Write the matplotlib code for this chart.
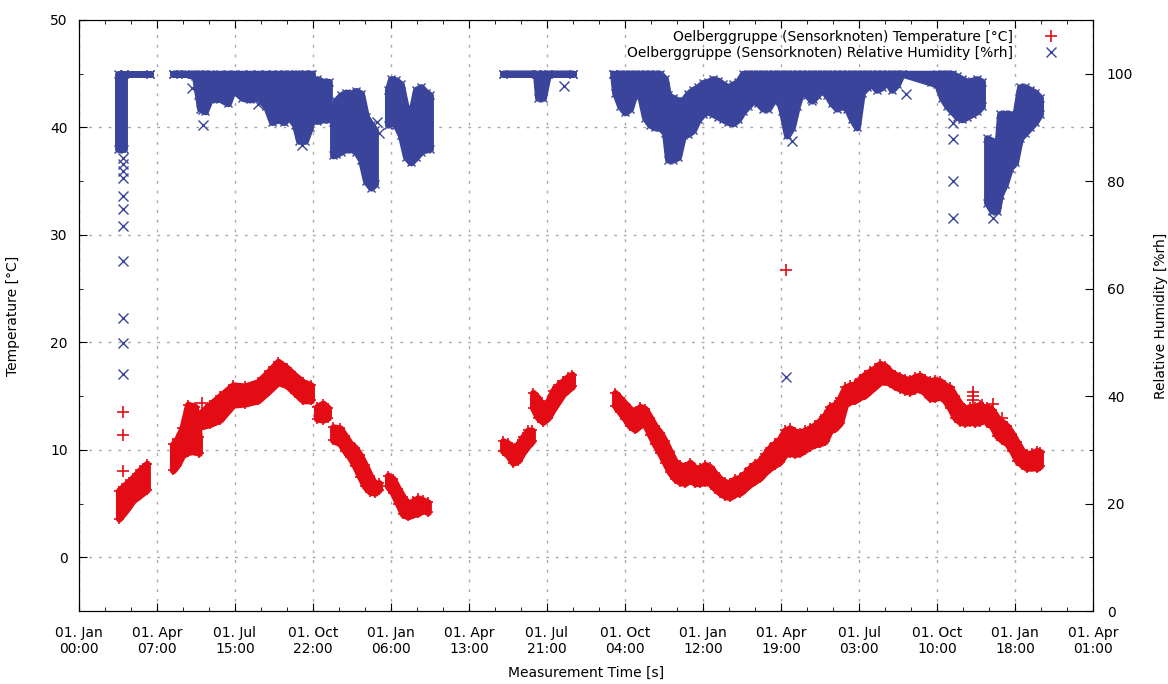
import matplotlib
matplotlib.use('Agg')
import matplotlib.pyplot as plt
from matplotlib.ticker import MultipleLocator

QUARTER = 91.3125  # days between the x ticks

tick_labels = ["01. Jan\n00:00", "01. Apr\n07:00", "01. Jul\n15:00", "01. Oct\n22:00",
               "01. Jan\n06:00", "01. Apr\n13:00", "01. Jul\n21:00", "01. Oct\n04:00",
               "01. Jan\n12:00", "01. Apr\n19:00", "01. Jul\n03:00", "01. Oct\n10:00",
               "01. Jan\n18:00", "01. Apr\n01:00"]

# temperature [°C]: days since start, lower and upper edge of the point cloud
t1_day = [46.8, 55.0, 63.2, 71.4, 79.6]
t1_lo = [3.6, 4.4, 5.3, 5.8, 6.3]
t1_hi = [6.2, 6.8, 7.4, 8.1, 8.7]

t2_day = [110.0, 115.0, 121.0, 127.6, 135.8, 140.5]
t2_lo = [8.1, 8.6, 9.5, 9.8, 9.9, 9.7]
t2_hi = [10.5, 11.0, 12.0, 14.2, 14.0, 11.2]

t3_day = [139.3, 153.4, 165.1, 180.3, 194.3, 209.6, 222.4, 233.0, 243.5, 252.9, 262.2, 271.6]
t3_lo = [12.1, 12.4, 12.8, 14.2, 14.3, 14.6, 15.5, 16.3, 16.0, 15.3, 14.6, 14.6]
t3_hi = [13.2, 14.2, 15.0, 16.0, 15.9, 16.3, 17.3, 18.2, 17.6, 16.9, 16.3, 16.0]

t4_day = [278.6, 285.6, 291.5]
t4_lo = [12.9, 12.8, 13.0]
t4_hi = [14.0, 14.3, 13.9]

t5_day = [297.4, 305.6, 311.4, 317.3, 323.1, 329.0, 334.8, 340.7, 346.5, 351.2]
t5_lo = [10.9, 10.6, 9.9, 9.3, 8.5, 7.5, 6.6, 6.1, 6.0, 6.3]
t5_hi = [12.1, 12.0, 11.3, 10.6, 10.2, 9.5, 8.6, 7.6, 6.8, 6.9]

t6_day = [361.7, 367.5, 373.4, 379.3, 385.1, 391.0, 396.8, 402.7, 408.5]
t6_lo = [6.6, 6.0, 5.0, 4.0, 3.8, 4.0, 4.1, 4.4, 4.2]
t6_hi = [7.6, 7.3, 6.4, 5.6, 5.0, 5.2, 5.5, 5.3, 5.1]

t7_day = [496.4, 502.2, 508.1, 513.9, 519.8, 525.6, 530.3]
t7_lo = [9.9, 9.5, 8.8, 9.0, 9.8, 10.4, 10.8]
t7_hi = [10.8, 10.6, 10.0, 10.5, 11.2, 11.8, 11.8]

t8_day = [531.5, 537.4, 543.2, 549.1, 555.0, 560.8, 566.7, 572.5, 577.2]
t8_lo = [13.9, 13.0, 12.6, 13.0, 13.8, 14.5, 15.2, 15.6, 15.9]
t8_hi = [15.3, 14.8, 14.0, 14.5, 15.5, 16.0, 16.4, 16.8, 17.0]

t9_day = [627.5, 633.4, 639.2, 645.1, 650.9, 656.8, 662.6, 668.5, 674.3, 680.2,
          686.0, 691.9, 697.7, 703.6, 709.4, 715.3, 721.1, 727.0, 732.8, 738.7,
          744.5, 750.4, 756.2, 762.1, 767.9, 773.8, 779.6, 785.5, 791.3, 797.2,
          803.0, 808.9, 814.7, 820.6, 826.4, 832.3, 838.1, 844.0, 849.8, 855.7,
          861.5, 867.4, 873.2, 879.1, 885.0, 890.9, 896.8, 902.6, 908.5, 914.3,
          920.2, 926.0, 931.9, 937.7, 943.6, 949.4, 955.3, 961.1, 967.0, 972.8,
          978.7, 984.5, 990.4, 996.2, 1002.1, 1007.9, 1013.8, 1019.6, 1025.5, 1031.3,
          1037.2, 1043.0, 1048.9, 1054.7, 1058.3]
t9_lo = [14.1, 13.5, 12.9, 12.2, 11.9, 12.3, 12.4, 11.4, 10.5, 9.7,
         8.8, 7.9, 7.3, 7.0, 6.9, 7.2, 6.9, 6.9, 7.0, 6.9,
         6.4, 6.0, 5.7, 5.6, 5.9, 6.0, 6.4, 6.8, 7.1, 7.4,
         7.9, 8.3, 8.6, 8.9, 9.6, 9.7, 9.6, 9.7, 10.0, 10.3,
         10.5, 10.6, 10.8, 11.8, 12.0, 12.5, 14.2, 14.5, 14.6, 14.9,
         15.1, 15.5, 15.9, 16.3, 16.4, 16.2, 15.9, 15.7, 15.5, 15.4,
         15.6, 15.7, 15.3, 14.8, 14.8, 15.0, 14.6, 13.9, 13.0, 12.6,
         12.5, 12.6, 12.5, 12.6, 12.8]
t9_hi = [15.3, 14.8, 14.3, 13.8, 13.5, 14.0, 13.8, 13.0, 12.2, 11.6,
         10.8, 9.8, 8.9, 8.6, 8.4, 8.8, 8.3, 8.3, 8.6, 8.4,
         7.8, 7.3, 7.0, 6.9, 7.3, 7.4, 7.8, 8.3, 8.7, 9.0,
         9.6, 10.2, 10.6, 11.0, 11.8, 12.0, 11.7, 11.6, 11.8, 12.0,
         12.3, 12.7, 13.2, 14.0, 14.2, 14.8, 15.8, 16.0, 16.1, 16.6,
         17.0, 17.3, 17.6, 18.0, 17.8, 17.3, 17.0, 16.8, 16.6, 16.5,
         16.8, 16.9, 16.6, 16.4, 16.5, 16.4, 16.0, 15.8, 15.0, 14.3,
         13.8, 14.0, 14.0, 14.2, 14.0]

t10_day = [1063.0, 1068.9, 1074.7, 1080.6, 1086.4, 1092.3, 1098.1, 1104.0, 1109.8, 1115.7, 1121.5, 1125.0]
t10_lo = [12.5, 12.2, 11.3, 10.9, 10.6, 9.9, 9.0, 8.6, 8.3, 8.4, 8.3, 8.5]
t10_hi = [14.0, 13.7, 13.0, 12.6, 12.2, 11.5, 10.7, 9.9, 9.6, 9.7, 9.9, 9.8]

# single temperature readings away from the cloud
t_out_day = [51.5, 51.5, 51.5, 144.0, 827.7, 1046.6, 1046.6, 1046.6, 1057.0, 1070.0, 1080.6]
t_out_val = [13.5, 11.4, 8.0, 14.4, 26.7, 15.4, 15.0, 14.6, 14.2, 14.3, 13.0]

# relative humidity [%rh]
h1_day = [45.7, 52.7, 52.7, 83.1]
h1_lo = [86.0, 86.0, 100.0, 100.0]
h1_hi = [100.0, 100.0, 100.0, 100.0]

h2_day = [110.0, 124.1, 135.8, 139.3, 141.7, 147.5, 153.4, 165.1, 174.4, 180.3, 191.4,
          200.2, 209.6, 218.9, 225.9, 233.0, 240.0, 245.9, 252.9, 257.6, 264.6, 270.4, 272.8]
h2_lo = [100.0, 100.0, 99.5, 96.0, 93.5, 93.0, 95.3, 95.3, 94.5, 97.0, 95.5,
         95.2, 95.6, 94.0, 91.0, 91.5, 91.0, 92.0, 90.5, 87.5, 87.5, 90.0, 92.0]
h2_hi = [100.0] * 23

h3_day = [278.6, 285.6, 292.6]
h3_lo = [91.2, 91.5, 91.5]
h3_hi = [99.0, 98.5, 98.5]

h4_day = [297.4, 300.9, 306.8, 312.6, 318.5, 324.3, 330.2, 336.0, 341.9, 346.5]
h4_lo = [84.8, 85.0, 85.5, 86.0, 86.0, 85.5, 84.0, 80.0, 78.8, 79.5]
h4_hi = [91.0, 95.0, 96.0, 96.5, 96.3, 96.8, 96.3, 92.0, 90.5, 89.5]

h5_day = [361.7, 365.2, 371.0, 376.9, 382.8, 388.6, 394.5, 400.3, 406.2, 410.9]
h5_lo = [90.5, 91.0, 90.5, 88.5, 84.5, 83.5, 84.5, 85.5, 86.0, 86.0]
h5_hi = [97.0, 99.0, 98.8, 98.0, 93.5, 92.5, 97.0, 97.5, 96.5, 96.0]

h6_day = [496.4, 535.0, 537.4, 543.2, 549.1, 578.3]
h6_lo = [100.0, 100.0, 95.5, 95.5, 100.0, 100.0]
h6_hi = [100.0] * 6

h7_day = [625.2, 627.5, 633.4, 639.2, 645.1, 650.9, 656.8, 662.6, 668.5, 674.3,
          680.2, 686.0, 689.6, 695.4, 701.3, 707.1, 713.0, 718.8, 724.7, 730.5,
          736.4, 742.2, 748.1, 753.9, 759.8, 765.6, 771.5, 777.3, 783.2, 789.0,
          794.9, 800.7, 806.6, 812.4, 818.3, 822.9, 828.8, 834.6, 840.5, 846.3,
          852.2, 858.0, 863.9, 869.7, 875.6, 881.4, 887.3, 893.1, 899.0, 904.8,
          910.7, 916.5, 922.4, 928.2, 934.1, 939.9, 945.8, 951.6, 957.6, 963.3,
          1004.5, 1010.3, 1016.2, 1022.0, 1027.9, 1033.7, 1039.6, 1045.4, 1051.3, 1057.1]
h7_lo = [100.0, 96.5, 94.0, 92.8, 93.5, 96.5, 96.0, 91.8, 90.5, 90.0,
         90.0, 89.0, 84.0, 84.0, 84.5, 88.5, 88.8, 89.5, 91.5, 92.5,
         93.0, 92.5, 92.0, 91.5, 91.0, 90.8, 91.5, 93.0, 94.0, 95.0,
         94.5, 93.5, 93.5, 95.0, 95.5, 93.0, 88.5, 90.0, 94.0, 97.0,
         96.0, 95.0, 96.0, 97.0, 96.0, 94.5, 93.5, 94.0, 93.5, 91.5,
         90.0, 96.5, 97.5, 98.0, 97.0, 97.5, 98.5, 97.0, 98.0, 100.0,
         98.0, 95.5, 94.0, 93.0, 92.0, 91.5, 92.0, 92.5, 93.0, 94.0]
h7_hi = [100.0, 100.0, 100.0, 100.0, 100.0, 100.0, 100.0, 100.0, 100.0, 100.0,
         100.0, 99.0, 96.0, 95.5, 95.0, 95.0, 96.3, 97.0, 97.5, 98.3,
         98.5, 99.0, 98.7, 98.0, 97.5, 98.0, 98.5, 100.0, 100.0, 100.0,
         100.0, 100.0, 100.0, 100.0, 100.0, 100.0, 100.0, 100.0, 100.0, 100.0,
         100.0, 100.0, 100.0, 100.0, 100.0, 100.0, 100.0, 100.0, 100.0, 100.0,
         100.0, 100.0, 100.0, 100.0, 100.0, 100.0, 100.0, 100.0, 100.0, 100.0,
         100.0, 100.0, 100.0, 100.0, 99.5, 99.0, 98.5, 98.7, 99.0, 98.5]

h8_day = [1063.0, 1068.9, 1074.7, 1078.2, 1084.1, 1089.9, 1095.8, 1101.6, 1107.5, 1113.3, 1119.2, 1125.0]
h8_lo = [76.0, 74.5, 74.5, 77.5, 79.5, 82.5, 83.5, 88.0, 89.0, 90.0, 91.0, 92.5]
h8_hi = [88.0, 87.5, 85.5, 92.5, 92.5, 92.5, 92.0, 97.5, 97.5, 97.0, 96.5, 95.5]

h_out_day = [51.5, 51.5, 51.5, 51.5, 51.5, 51.5, 51.5, 51.5, 51.5, 51.5, 51.5,
             132.3, 145.0, 145.0, 209.6, 261.0, 349.0, 351.0, 568.0,
             827.7, 835.0, 858.0, 968.0, 998.0, 1023.2, 1023.2, 1023.2, 1023.2, 1070.0]
h_out_val = [84.3, 83.2, 81.9, 80.6, 77.2, 74.8, 71.6, 65.1, 54.5, 49.8, 44.2,
             97.4, 93.5, 90.5, 94.3, 86.8, 91.0, 89.0, 97.8,
             43.5, 87.5, 95.5, 96.3, 98.6, 90.8, 87.9, 80.0, 73.1, 73.1]

RED = '#e30c14'
BLUE = '#39449a'

temp_segments = [(t1_day, t1_lo, t1_hi), (t2_day, t2_lo, t2_hi), (t3_day, t3_lo, t3_hi),
                 (t4_day, t4_lo, t4_hi), (t5_day, t5_lo, t5_hi), (t6_day, t6_lo, t6_hi),
                 (t7_day, t7_lo, t7_hi), (t8_day, t8_lo, t8_hi), (t9_day, t9_lo, t9_hi),
                 (t10_day, t10_lo, t10_hi)]
hum_segments = [(h1_day, h1_lo, h1_hi), (h2_day, h2_lo, h2_hi), (h3_day, h3_lo, h3_hi),
                (h4_day, h4_lo, h4_hi), (h5_day, h5_lo, h5_hi), (h6_day, h6_lo, h6_hi),
                (h7_day, h7_lo, h7_hi), (h8_day, h8_lo, h8_hi)]

plt.rcParams['font.family'] = ['DejaVu Sans']
plt.rcParams['font.size'] = 10

fig = plt.figure(figsize=(11.68, 6.84), dpi=100)
ax = fig.add_axes([0.0676, 0.1067, 0.8682, 0.8641])
ax2 = ax.twinx()

# temperature cloud
for d, lo, hi in temp_segments:
    ax.fill_between(d, lo, hi, color=RED, lw=5, edgecolor=RED, zorder=3)
    ax.plot(d, lo, '+', color=RED, ms=7, mew=1.2, zorder=3)
    ax.plot(d, hi, '+', color=RED, ms=7, mew=1.2, zorder=3)
ax.plot(t_out_day, t_out_val, '+', color=RED, ms=8, mew=1.2, zorder=3)

# humidity cloud
for d, lo, hi in hum_segments:
    ax2.fill_between(d, lo, hi, color=BLUE, lw=5, edgecolor=BLUE, zorder=3)
    ax2.plot(d, lo, 'x', color=BLUE, ms=6, mew=1.0, zorder=3)
    ax2.plot(d, hi, 'x', color=BLUE, ms=6, mew=1.0, zorder=3)
ax2.plot(h_out_day, h_out_val, 'x', color=BLUE, ms=7, mew=1.0, zorder=3)

ax.set_xlim(0, 13 * QUARTER)
ax.set_ylim(-5, 50)
ax2.set_ylim(0, 110)

ax.set_xticks([i * QUARTER for i in range(14)])
ax.set_xticklabels(tick_labels)
ax.xaxis.set_minor_locator(MultipleLocator(QUARTER / 3))
ax.set_yticks(range(0, 51, 10))
ax.yaxis.set_minor_locator(MultipleLocator(5))
ax2.set_yticks(range(0, 101, 20))
ax2.yaxis.set_minor_locator(MultipleLocator(10))

ax.tick_params(which='both', direction='in', top=True, right=False, labelsize=10)
ax.tick_params(axis='x', pad=11)
ax.tick_params(axis='y', pad=8)
ax.tick_params(which='major', length=6)
ax.tick_params(which='minor', length=3)
ax2.tick_params(which='both', direction='in', labelsize=10, pad=10)
ax2.tick_params(which='major', length=6)
ax2.tick_params(which='minor', length=3)

ax.grid(True, which='major', color='#a8a8a8', linestyle=(0, (2, 5)), lw=1)
ax.set_axisbelow(True)

ax.set_xlabel('Measurement Time [s]', labelpad=7)
ax.set_ylabel('Temperature [°C]', labelpad=22)
ax2.set_ylabel('Relative Humidity [%rh]', labelpad=15)

h_t, = ax.plot([], [], '+', color=RED, ms=8, mew=1.2)
h_h, = ax.plot([], [], 'x', color=BLUE, ms=7, mew=1.0)
ax2.legend([h_t, h_h],
           ['Oelberggruppe (Sensorknoten) Temperature [°C]',
            'Oelberggruppe (Sensorknoten) Relative Humidity [%rh]'],
           loc='upper right', bbox_to_anchor=(0.985, 1.0),
           markerfirst=False, frameon=False, fontsize=10,
           handlelength=2.5, handletextpad=1.5, labelspacing=0.15,
           borderaxespad=0.3)

fig.savefig('out.png', dpi=100)
